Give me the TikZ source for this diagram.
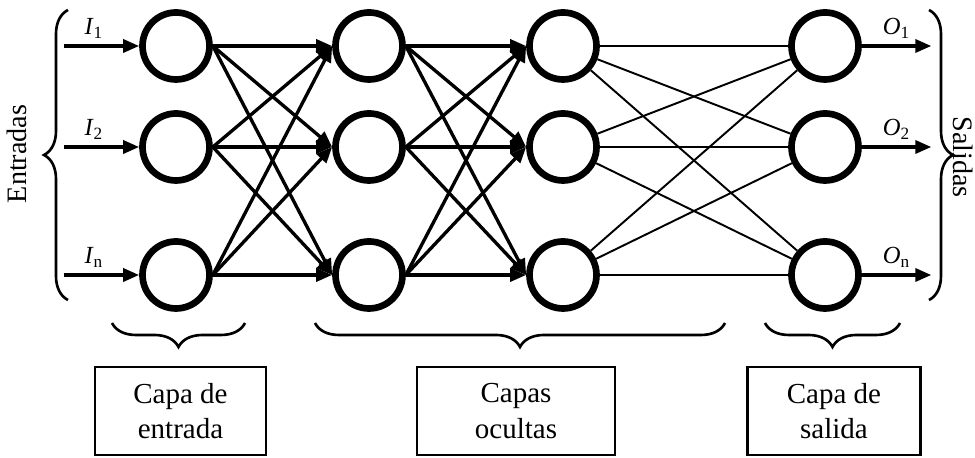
\documentclass[tikz,border=0pt]{standalone}
\usepackage{fontspec}
\setmainfont{Liberation Serif}
\usetikzlibrary{arrows.meta,decorations.pathreplacing}

\begin{document}
\begin{tikzpicture}[
    neuron/.style={circle,draw,line width=3.8pt,minimum size=1.34cm,inner sep=0pt},
    conn/.style={line width=1.9pt,-{Triangle[length=0.32cm,width=0.26cm]}},
    thinconn/.style={line width=1.1pt},
    signal/.style={font={\fontsize{14}{16}\selectfont}},
    side/.style={inner sep=0pt,font={\fontsize{16}{20}\selectfont}},
    layerbox/.style={draw,line width=1.6pt,minimum height=1.76cm,align=center,
        font={\fontsize{16.5}{20}\selectfont}},
    bracket/.style={decorate,decoration={brace,amplitude=0.48cm},line width=1.5pt},
    ]
    \useasboundingbox (0,0) rectangle (19.5,9.16);
    % Neurons
    \foreach \y [count=\i] in {8.24,6.22,3.66} {
        \node[neuron] (e\i) at (3.52,\y) {};
        \node[neuron] (a\i) at (7.38,\y) {};
        \node[neuron] (b\i) at (11.26,\y) {};
        \node[neuron] (s\i) at (16.5,\y) {};
    }
    % Connections between layers
    \foreach \i in {1,2,3} {
        \foreach \j in {1,2,3} {
            \draw[conn] (e\i.east) -- (a\j.west);
            \draw[conn] (a\i.east) -- (b\j.west);
            \draw[thinconn] (b\i) -- (s\j);
        }
    }
    % Inputs and outputs
    \foreach \i/\t in {1/1,2/2,3/n} {
        \path (e\i.west) ++(-1.51,0) coordinate (x\i);
        \draw[conn] (x\i) -- (e\i.west) node[signal,above,pos=0.4] (lx\i) {\textit{I}\textsubscript{\t}};
        \path (s\i.east) ++(1.39,0) coordinate (y\i);
        \draw[conn] (s\i.east) -- (y\i) node[signal,above,pos=0.5] (ly\i) {\textit{O}\textsubscript{\t}};
    }
    % Side braces
    \draw[bracket] (1.36,3.16) -- (1.36,8.96);
    \node[side,rotate=90] (entradas) at (0.34,6.08) {Entradas};
    \draw[bracket] (18.58,8.96) -- (18.58,3.16);
    \node[side,rotate=-90] (salidas) at (19.27,6.02) {Salidas};
    % Layer braces
    \draw[bracket] (4.9,2.7) -- (2.24,2.7);
    \draw[bracket] (14.5,2.7) -- (6.3,2.7);
    \draw[bracket] (18.0,2.7) -- (15.3,2.7);
    % Layer names
    \node[layerbox,minimum width=3.42cm] (cent) at (3.61,0.94) {Capa de\\entrada};
    \node[layerbox,minimum width=3.96cm] (cocu) at (10.32,0.94) {Capas\\ocultas};
    \node[layerbox,minimum width=3.46cm] (csal) at (16.68,0.94) {Capa de\\salida};
\end{tikzpicture}
\end{document}
